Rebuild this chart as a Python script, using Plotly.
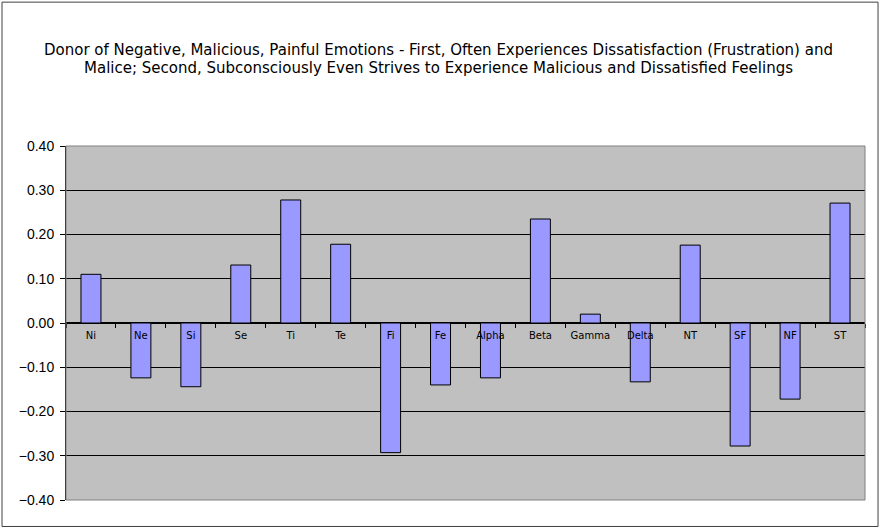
import plotly.graph_objects as go

categories = ["Ni", "Ne", "Si", "Se", "Ti", "Te", "Fi", "Fe",
              "Alpha", "Beta", "Gamma", "Delta", "NT", "SF", "NF", "ST"]
values = [0.110, -0.124, -0.144, 0.131, 0.278, 0.178, -0.293, -0.140,
          -0.124, 0.235, 0.020, -0.133, 0.176, -0.278, -0.172, 0.271]
y_ticks = [0.40, 0.30, 0.20, 0.10, 0.00, -0.10, -0.20, -0.30, -0.40]
title_lines = [
    "Donor of Negative, Malicious, Painful Emotions - First, Often Experiences Dissatisfaction (Frustration) and",
    "Malice; Second, Subconsciously Even Strives to Experience Malicious and Dissatisfied Feelings",
]

fig = go.Figure()
fig.add_trace(go.Bar(
    x=categories, y=values,
    marker=dict(color="#9999FF", line=dict(color="black", width=1)),
    hoverinfo="x+y",
))

fig.update_layout(
    width=882, height=531,
    margin=dict(l=66, r=17, t=146, b=31),
    paper_bgcolor="white",
    plot_bgcolor="#C0C0C0",
    bargap=0.6,
    showlegend=False,
    font=dict(family="Liberation Sans, Arial, sans-serif", color="black"),
)

fig.update_xaxes(
    type="category",
    anchor="free", position=0.5,
    showgrid=False,
    ticks="outside", tickson="boundaries", ticklen=4, tickcolor="black",
    tickfont=dict(family="DejaVu Sans", size=10, color="black"),
    showline=False,
    zeroline=False,
    ticklabelstandoff=5,
)

fig.update_yaxes(
    range=[-0.4, 0.4],
    tickvals=y_ticks,
    tickformat=".2f",
    showgrid=True, gridcolor="black", gridwidth=1,
    zeroline=True, zerolinecolor="black", zerolinewidth=2,
    ticks="outside", ticklen=5, tickcolor="black",
    tickfont=dict(family="Liberation Sans, Arial", size=14, color="black"),
    showline=True, linecolor="black", linewidth=1,
    ticklabelstandoff=3,
)

# plot area border (gray)
fig.add_shape(type="rect", xref="paper", yref="paper", x0=0, x1=1, y0=0, y1=1,
              line=dict(color="#808080", width=1), fillcolor="rgba(0,0,0,0)", layer="above")
# outer chart border
fig.add_shape(type="rect", xref="paper", yref="paper",
              x0=-0.0801, x1=1.0163, y0=-0.0748, y1=1.4064,
              line=dict(color="#404040", width=1), fillcolor="rgba(0,0,0,0)", layer="above")

for line_text, ypos in zip(title_lines, [1.271, 1.219]):
    fig.add_annotation(text=line_text, xref="paper", yref="paper",
                       x=0.4668, y=ypos, xanchor="center", yanchor="middle",
                       showarrow=False,
                       font=dict(family="DejaVu Sans", size=15, color="black"))

fig.write_html("out.html", config={"displayModeBar": False},
               post_script="document.body.style.margin='0';")
